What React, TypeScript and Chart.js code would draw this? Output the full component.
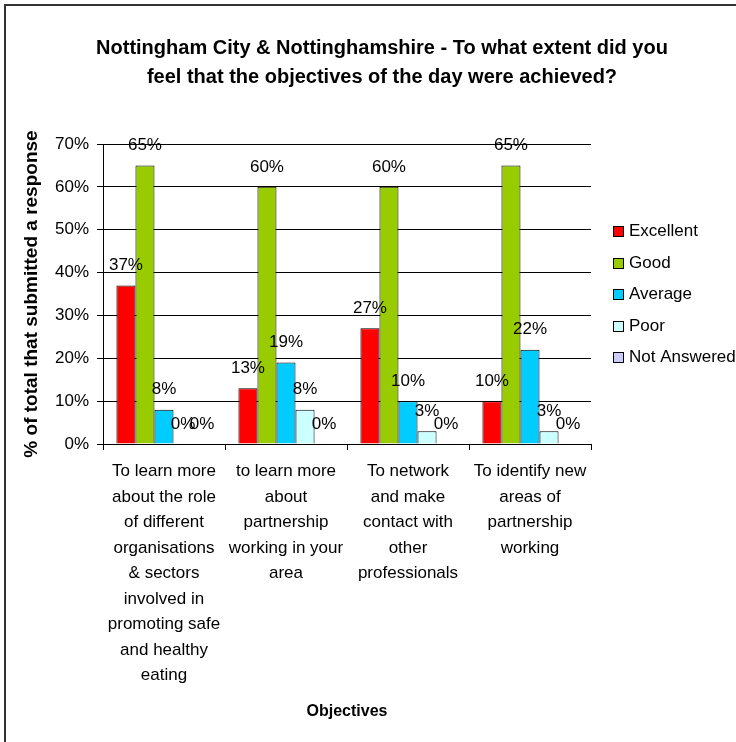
import React, { useEffect, useRef } from "react";
import { Chart, registerables } from "chart.js";

Chart.register(...registerables);

const FONT = '"Liberation Sans", Arial, Helvetica, sans-serif';

const titleLines = [
  "Nottingham City & Nottinghamshire - To what extent did you",
  "feel that the objectives of the day were achieved?",
];

const categories = [
  ["To learn more", "about the role", "of different", "organisations", "& sectors", "involved in", "promoting safe", "and healthy", "eating"],
  ["to learn more", "about", "partnership", "working in your", "area"],
  ["To network", "and make", "contact with", "other", "professionals"],
  ["To identify new", "areas of", "partnership", "working"],
];

const seriesNames = ["Excellent", "Good", "Average", "Poor", "Not Answered"];
const excellent = [37, 13, 27, 10];
const good = [65, 60, 60, 65];
const average = [8, 19, 10, 22];
const poor = [0, 8, 3, 3];
const notAnswered = [0, 0, 0, 0];
const seriesColors = ["#FF0000", "#99CC00", "#00CCFF", "#CCFFFF", "#CCCCFF"];

const yMin = 0;
const yMax = 70;
const yStep = 10;

const yAxisTitle = "% of total that submitted a response";
const xAxisTitle = "Objectives";

const decorPlugin = {
  id: "decor",
  beforeDraw(chart: any) {
    const ctx = chart.ctx;
    ctx.save();
    ctx.fillStyle = "#FFFFFF";
    ctx.fillRect(0, 0, chart.width, chart.height);
    ctx.strokeStyle = "#333333";
    ctx.lineWidth = 2;
    ctx.beginPath();
    ctx.moveTo(5, chart.height + 10);
    ctx.lineTo(5, 5);
    ctx.lineTo(chart.width + 10, 5);
    ctx.stroke();
    ctx.restore();
  },
  afterDatasetsDraw(chart: any) {
    const ctx = chart.ctx;
    ctx.save();
    ctx.font = `17px ${FONT}`;
    ctx.fillStyle = "#000";
    ctx.textAlign = "center";
    ctx.textBaseline = "middle";
    chart.data.datasets.forEach((ds: any, i: number) => {
      const meta = chart.getDatasetMeta(i);
      meta.data.forEach((bar: any, j: number) => {
        const v = ds.data[j];
        if (v === null || v === undefined) return;
        ctx.fillText(`${v}%`, bar.x, bar.y - 20);
      });
    });
    ctx.restore();
  },
  afterDraw(chart: any) {
    const ctx = chart.ctx;
    ctx.save();
    // title
    ctx.font = `bold 20px ${FONT}`;
    ctx.fillStyle = "#000";
    ctx.textAlign = "center";
    ctx.textBaseline = "middle";
    titleLines.forEach((t, i) => ctx.fillText(t, 382, 48 + i * 29));
    // legend
    ctx.font = `17px ${FONT}`;
    ctx.textAlign = "left";
    chart.data.datasets.forEach((ds: any, i: number) => {
      const cy = 231.5 + i * 31.5;
      ctx.fillStyle = ds.backgroundColor;
      ctx.fillRect(613, Math.round(cy - 5.5), 11, 11);
      ctx.strokeStyle = "#000";
      ctx.lineWidth = 1;
      ctx.strokeRect(613.5, Math.round(cy - 5.5) + 0.5, 10, 10);
      ctx.fillStyle = "#000";
      ctx.fillText(ds.label, 629, cy);
    });
    ctx.restore();
  },
};

export default function App() {
  const ref = useRef<HTMLCanvasElement | null>(null);
  useEffect(() => {
    if (!ref.current) return;
    const seriesData = [excellent, good, average, poor, notAnswered];
    const chart = new Chart(ref.current, {
      type: "bar",
      data: {
        labels: categories as any,
        datasets: seriesNames.map((name, i) => ({
          label: name,
          data: seriesData[i],
          backgroundColor: seriesColors[i],
          borderColor: "#000000",
          borderWidth: 1,
          categoryPercentage: 0.78,
          barPercentage: 1,
        })),
      },
      options: {
        responsive: false,
        animation: false,
        devicePixelRatio: 1,
        layout: { padding: { top: 144, left: 0, right: 145, bottom: 0 } },
        plugins: {
          legend: { display: false },
          title: { display: false },
          tooltip: { enabled: false },
        },
        scales: {
          x: {
            grid: {
              display: true,
              drawOnChartArea: false,
              drawTicks: true,
              tickLength: 6,
              color: "#000",
              offset: true,
            },
            border: { color: "#000", width: 1 },
            ticks: {
              font: { family: FONT, size: 17, lineHeight: 1.5 },
              color: "#000",
              padding: 9,
              maxRotation: 0,
              minRotation: 0,
              autoSkip: false,
            },
            title: {
              display: true,
              text: xAxisTitle,
              color: "#000",
              font: { family: FONT, size: 16, weight: "bold" },
              padding: { top: 0, bottom: 21 },
            },
            afterFit: (scale: any) => {
              scale.height = 298;
            },
          },
          y: {
            min: yMin,
            max: yMax,
            grid: {
              color: "#000",
              lineWidth: 1,
              drawTicks: true,
              tickLength: 6,
            },
            border: { color: "#000", width: 1 },
            ticks: {
              stepSize: yStep,
              font: { family: FONT, size: 17 },
              color: "#000",
              padding: 8,
              callback: (v: any) => `${v}%`,
            },
            title: {
              display: true,
              text: yAxisTitle,
              color: "#000",
              font: { family: FONT, size: 19, weight: "bold" },
              padding: { top: 20, bottom: 0 },
            },
            afterFit: (scale: any) => {
              scale.width = 103;
            },
          },
        },
      },
      plugins: [decorPlugin],
    });
    return () => chart.destroy();
  }, []);
  return (
    <div style={{ position: "absolute", left: 0, top: 0, width: 736, height: 742, background: "#fff" }}>
      <canvas ref={ref} width={736} height={742} style={{ display: "block", width: 736, height: 742 }} />
    </div>
  );
}
